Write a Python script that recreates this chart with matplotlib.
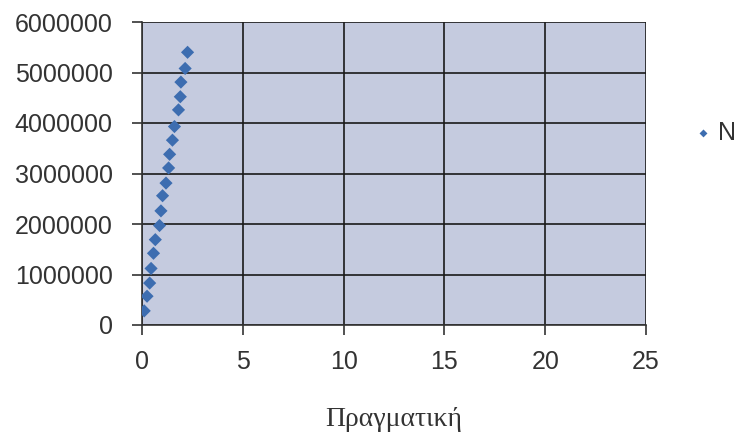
import matplotlib.pyplot as plt

# values (x = Πραγματική, y = N)
pragmatiki = [0.11, 0.25, 0.38, 0.45, 0.57, 0.66, 0.87, 0.94, 1.02, 1.19,
              1.32, 1.37, 1.51, 1.61, 1.81, 1.90, 1.93, 2.14, 2.26]
n_values = [280000, 570000, 830000, 1120000, 1420000, 1690000, 1970000, 2260000,
            2560000, 2810000, 3110000, 3380000, 3660000, 3930000, 4260000,
            4520000, 4810000, 5080000, 5400000]
x_ticks = [0, 5, 10, 15, 20, 25]
y_ticks = [0, 1000000, 2000000, 3000000, 4000000, 5000000, 6000000]

fig = plt.figure(figsize=(7.38, 4.38), dpi=100)
ax = fig.add_axes([142 / 738, 1 - 325 / 438, 504 / 738, 303 / 438])

ax.set_facecolor("#c5cbdf")
ax.scatter(pragmatiki, n_values, marker="D", s=45, color="#3d6db0",
           edgecolors="none", zorder=3, label="N")

ax.set_xlim(0, 25)
ax.set_ylim(0, 6000000)
ax.set_xticks(x_ticks)
ax.set_yticks(y_ticks)
ax.set_yticklabels([str(v) for v in y_ticks])
ax.grid(True, color="#1a1a1a", linewidth=1.2)
ax.set_axisbelow(True)

for side in ["top", "right"]:
    ax.spines[side].set_visible(False)
for side in ["left", "bottom"]:
    ax.spines[side].set_color("#333333")
    ax.spines[side].set_linewidth(1.2)

ax.tick_params(axis="both", direction="out", length=7, width=1.2,
               color="#333333", labelsize=18, labelcolor="#333333")
ax.tick_params(axis="y", pad=14)
ax.tick_params(axis="x", pad=11)
for lbl in ax.get_xticklabels() + ax.get_yticklabels():
    lbl.set_fontfamily("Liberation Sans")

fig.text(394 / 738, 1 - 420 / 438, "Πραγματική", fontfamily="Liberation Serif",
         fontsize=20, color="#333333", ha="center", va="center")

leg = ax.legend(loc="center left", bbox_to_anchor=(696 / 738, 1 - 133 / 438),
                bbox_transform=fig.transFigure, frameon=False, borderpad=0,
                borderaxespad=0, handlelength=0.6, handletextpad=0.3,
                markerscale=0.6, prop={"family": "Liberation Sans", "size": 18})
for t in leg.get_texts():
    t.set_color("#333333")

fig.savefig("out.png", dpi=100)
